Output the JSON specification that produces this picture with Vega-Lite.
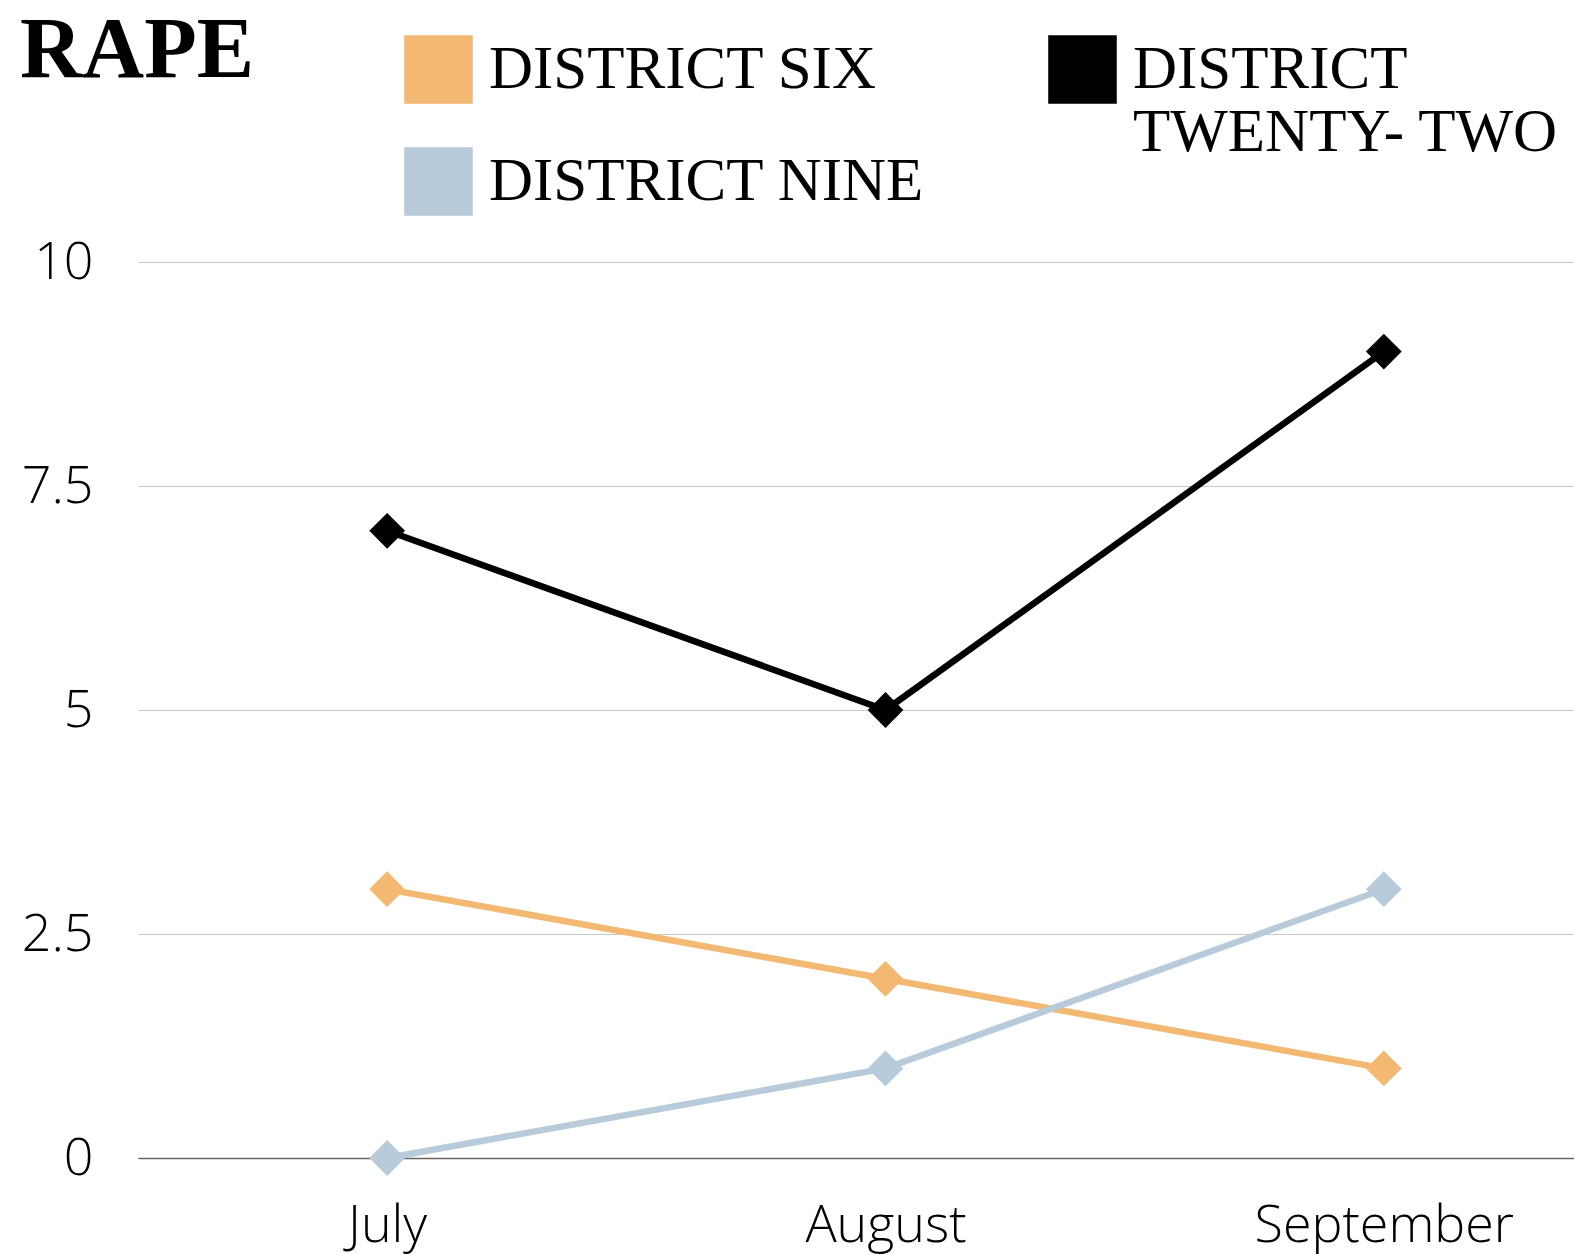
{
  "$schema": "https://vega.github.io/schema/vega-lite/v6.json",
  "width": 1433,
  "height": 896,
  "autosize": {"type": "none"},
  "padding": {"left": 135, "top": 262, "right": 6, "bottom": 97},
  "background": "white",
  "title": {
    "text": "RAPE",
    "anchor": "start",
    "frame": "group",
    "font": "Liberation Serif",
    "fontWeight": "bold",
    "fontSize": 86,
    "color": "black",
    "dx": -115,
    "dy": 60,
    "offset": 0
  },
  "data": {
    "values": [
      {"month": "July", "district": "DISTRICT SIX", "count": 3},
      {"month": "August", "district": "DISTRICT SIX", "count": 2},
      {"month": "September", "district": "DISTRICT SIX", "count": 1},
      {"month": "July", "district": "DISTRICT NINE", "count": 0},
      {"month": "August", "district": "DISTRICT NINE", "count": 1},
      {"month": "September", "district": "DISTRICT NINE", "count": 3},
      {"month": "July", "district": "DISTRICT TWENTY- TWO", "count": 7},
      {"month": "August", "district": "DISTRICT TWENTY- TWO", "count": 5},
      {"month": "September", "district": "DISTRICT TWENTY- TWO", "count": 9}
    ]
  },
  "encoding": {
    "x": {
      "field": "month",
      "type": "ordinal",
      "sort": ["July", "August", "September"],
      "scale": {"type": "point", "padding": 0.5, "range": [3, 1498]},
      "axis": {
        "title": null,
        "labelAngle": 0,
        "labelFont": "Open Sans",
        "labelFontWeight": 300,
        "labelFontSize": 52,
        "labelColor": "black",
        "labelPadding": 42,
        "labelLimit": 500,
        "ticks": false,
        "domain": false,
        "grid": false
      }
    },
    "y": {
      "field": "count",
      "type": "quantitative",
      "scale": {"domain": [0, 10], "nice": false},
      "axis": {
        "title": null,
        "values": [0, 2.5, 5, 7.5, 10],
        "format": ".1~f",
        "labelFont": "Open Sans",
        "labelFontWeight": 300,
        "labelFontSize": 52,
        "labelColor": "black",
        "labelPadding": 42,
        "ticks": false,
        "domain": false,
        "grid": true,
        "gridColor": {"condition": {"test": "datum.value === 0", "value": "#666666"}, "value": "#c8c8c8"},
        "gridWidth": {"condition": {"test": "datum.value === 0", "value": 1.5}, "value": 1}
      }
    },
    "color": {
      "field": "district",
      "type": "nominal",
      "scale": {
        "domain": ["DISTRICT SIX", "DISTRICT NINE", "DISTRICT TWENTY- TWO"],
        "range": ["#F3B972", "#B8CBDA", "#000000"]
      },
      "legend": {
        "title": null,
        "orient": "none",
        "legendX": 269,
        "legendY": -227,
        "columns": 2,
        "columnPadding": 123,
        "rowPadding": -16,
        "gridAlign": "none",
        "symbolType": "square",
        "symbolSize": 4700,
        "symbolStrokeWidth": 0,
        "symbolOpacity": 1,
        "labelFont": "Liberation Serif",
        "labelFontSize": 61,
        "labelColor": "black",
        "labelLimit": 600,
        "labelOffset": 16,
        "labelExpr": "datum.label == 'DISTRICT TWENTY- TWO' ? ['DISTRICT', 'TWENTY- TWO'] : datum.label",
        "labelLineHeight": 56
      }
    }
  },
  "layer": [
    {
      "mark": {"type": "line", "strokeWidth": 6.5, "strokeJoin": "miter"}
    },
    {
      "mark": {"type": "point", "shape": "diamond", "filled": true, "size": 1280, "opacity": 1}
    }
  ],
  "config": {
    "view": {"stroke": null}
  }
}
